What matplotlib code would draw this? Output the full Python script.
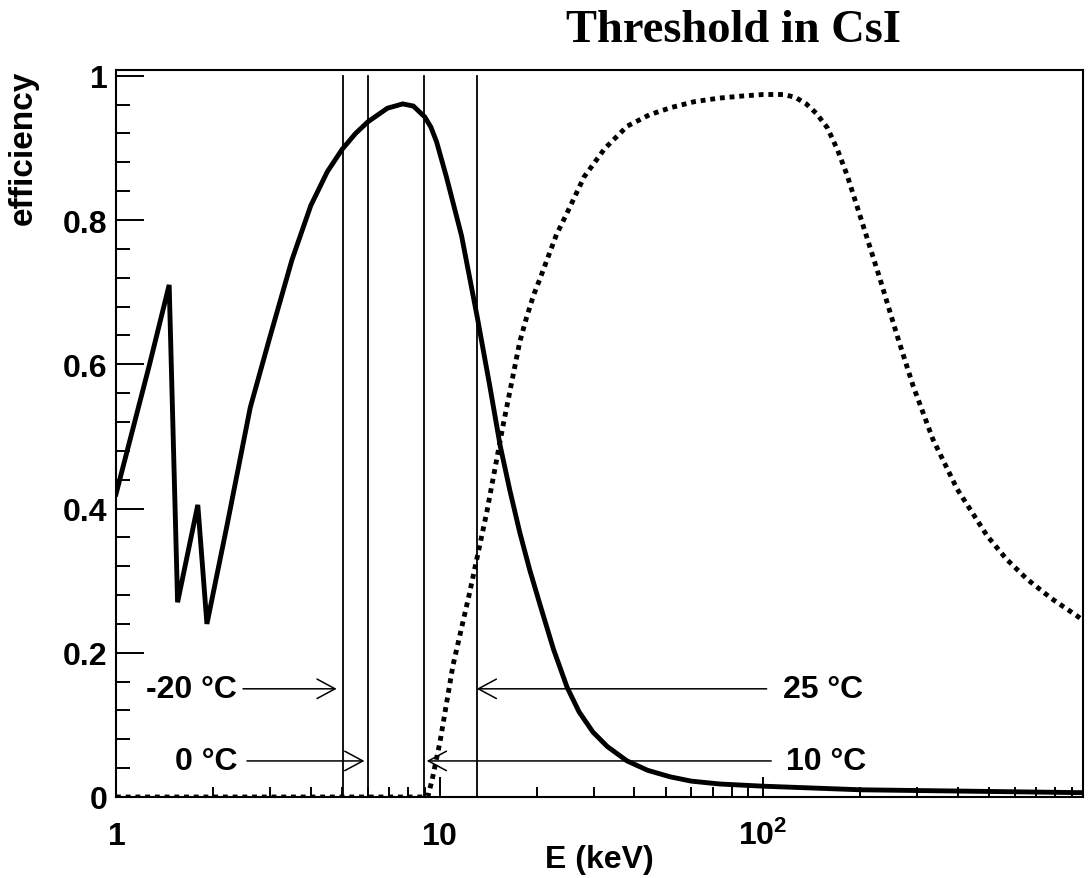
import matplotlib
matplotlib.use('Agg')
import matplotlib.pyplot as plt
from matplotlib.ticker import FixedLocator, LogLocator, NullFormatter, MultipleLocator, FuncFormatter

plt.rcParams['font.family'] = 'Liberation Sans'
plt.rcParams['font.weight'] = 'bold'
plt.rcParams['mathtext.fontset'] = 'custom'
plt.rcParams['mathtext.rm'] = 'Liberation Sans:bold'
plt.rcParams['mathtext.it'] = 'Liberation Sans:bold'
plt.rcParams['mathtext.bf'] = 'Liberation Sans:bold'

# efficiency curve (solid)
e_solid = [1.0, 1.27, 1.46, 1.55, 1.79, 1.91, 2.2, 2.6, 3.0, 3.5, 4.0, 4.5,
           5.0, 5.5, 6.0, 6.9, 7.7, 8.3, 9.0, 9.4, 9.8, 10.5, 11.7, 13.06,
           14.3, 15.4, 16.5, 17.7, 19.0, 20.5, 22.5, 24.8, 27.0, 29.8, 33.0,
           38.0, 44.0, 51.6, 60.0, 73.6, 100, 200, 975]
eff_solid = [0.42, 0.60, 0.71, 0.27, 0.405, 0.24, 0.375, 0.54, 0.64, 0.745,
             0.82, 0.867, 0.898, 0.92, 0.936, 0.955, 0.961, 0.958, 0.943,
             0.929, 0.908, 0.860, 0.778, 0.667, 0.570, 0.487, 0.425, 0.367,
             0.315, 0.265, 0.205, 0.152, 0.118, 0.090, 0.070, 0.050, 0.037,
             0.028, 0.022, 0.018, 0.015, 0.010, 0.006]

# second curve (dotted)
e_dot = [1.0, 9.2, 9.5, 10.03, 11.0, 12.4, 14.0, 15.7, 17.7, 18.5, 19.5, 20.5,
         21.5, 23.0, 24.8, 28.0, 32.4, 38.0, 44.6, 52.0, 61.2, 73.0, 86.7,
         100, 116, 126, 136, 146, 158, 170, 182, 204, 230, 260, 291, 335, 398,
         493, 565, 655, 780, 935, 975]
eff_dot = [0.0, 0.0, 0.025, 0.076, 0.182, 0.284, 0.395, 0.514, 0.631, 0.662,
           0.695, 0.72, 0.745, 0.78, 0.81, 0.86, 0.899, 0.93, 0.946, 0.956,
           0.964, 0.969, 0.972, 0.974, 0.974, 0.970, 0.961, 0.948, 0.928,
           0.897, 0.862, 0.792, 0.718, 0.639, 0.570, 0.496, 0.427, 0.362,
           0.330, 0.302, 0.275, 0.251, 0.245]

# thresholds (keV) at each temperature
temps = ['-20 °C', '0 °C', '10 °C', '25 °C']
thresholds = [5.03, 6.02, 8.98, 13.06]

fig = plt.figure(figsize=(10.9, 8.79), dpi=100)
ax = fig.add_axes([116/1090, 1-798/879, (1083-116)/1090, (798-71)/879])

ax.plot(e_solid, eff_solid, color='black', lw=3.5, solid_joinstyle='miter')
ax.plot(e_dot, eff_dot, color='black', lw=3.5, linestyle=(0, (1, 1)),
        dash_capstyle='butt')

for t in thresholds:
    ax.plot([t, t], [0, 1], color='black', lw=1.3)

# arrows: label, y level, arrow start, arrow tip, text x, text alignment
arrows = [('-20 °C', 0.15, 2.47, 4.81, 2.36, 'right'),
          ('0 °C', 0.05, 2.54, 5.86, 2.37, 'right'),
          ('25 °C', 0.15, 102.6, 13.03, 115.5, 'left'),
          ('10 °C', 0.05, 106, 9.13, 117.8, 'left')]
for lab, y, x0, x1, xt, ha in arrows:
    ax.annotate('', xy=(x1, y), xytext=(x0, y),
                arrowprops=dict(arrowstyle='->,head_length=1.3,head_width=0.7',
                                lw=1.1, color='black', shrinkA=0, shrinkB=0,
                                mutation_scale=10))
    ax.text(xt, y, lab, ha=ha, va='center', fontsize=23, fontweight='bold')

ax.set_xscale('log')
ax.set_xlim(1, 975)
ax.set_ylim(0, 1.008)

ax.xaxis.set_major_locator(FixedLocator([1, 10, 100]))
ax.set_xticklabels(['$1$', '$10$', '$10^{2}$'])
ax.xaxis.set_minor_locator(LogLocator(base=10, subs=range(2, 10), numticks=20))
ax.xaxis.set_minor_formatter(NullFormatter())
ax.yaxis.set_major_locator(MultipleLocator(0.2))
ax.yaxis.set_minor_locator(MultipleLocator(0.04))
ax.yaxis.set_major_formatter(FuncFormatter(lambda v, p: '%g' % round(v, 2)))

ax.tick_params(axis='both', which='both', direction='in', top=False, right=False,
               width=1.4, labelsize=23)
ax.tick_params(axis='x', which='major', length=14.4, pad=34)
ax.tick_params(axis='x', which='minor', length=7.2)
ax.tick_params(axis='y', which='major', length=20, pad=6)
ax.tick_params(axis='y', which='minor', length=10)
for lbl in ax.get_xticklabels():
    lbl.set_verticalalignment('baseline')
for s in ax.spines.values():
    s.set_linewidth(1.5)

ax.set_xlabel('E (keV)', fontsize=23, fontweight='bold', va='top')
ax.xaxis.set_label_coords(0.5, -0.064)
ax.set_ylabel('efficiency', fontsize=24, fontweight='bold', ha='right', va='center')
ax.yaxis.set_label_coords(-0.096, 1.0)

fig.text(733/1090, 1-31/879, 'Threshold in CsI', ha='center', va='center',
         family='Liberation Serif', fontweight='bold', fontsize=33.5)

plt.savefig('out.png', dpi=100)
